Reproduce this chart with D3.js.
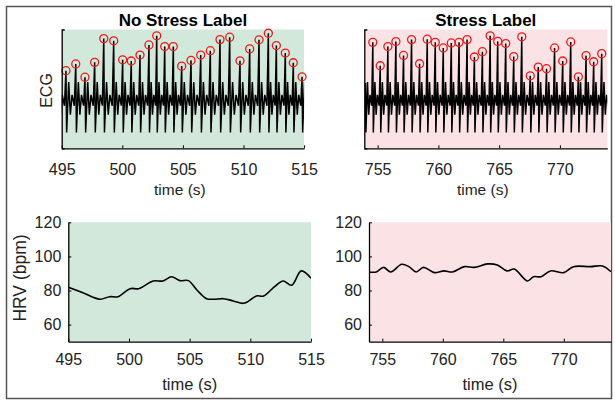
<!DOCTYPE html>
<html>
<head>
<meta charset="utf-8">
<script src="https://cdn.jsdelivr.net/npm/d3@7"></script>
<style>
  body { margin: 0; background: #fff; }
  svg { display: block; font-family: "Liberation Sans", Arial, Helvetica, sans-serif; }
</style>
</head>
<body>
<svg id="chart" width="615" height="401"></svg>
<script>
// R-peak times (s) and heights
const calmPeakTimes = [495.35, 496.16, 496.92, 497.72, 498.47, 499.29, 500.03, 500.74, 501.46,
  502.20, 502.84, 503.50, 504.21, 504.90, 505.67, 506.47, 507.26, 508.06, 508.86, 509.71,
  510.51, 511.28, 512.05, 512.71, 513.45, 514.11, 514.83];
const calmPeakValues = [0.92, 1.26, 0.59, 1.34, 2.54, 2.43, 1.47, 1.41, 1.71, 2.22, 2.68, 2.14,
  2.14, 1.15, 1.44, 1.71, 1.93, 2.49, 2.61, 1.42, 2.02, 2.48, 2.81, 2.19, 1.81, 1.32, 0.61];

const stressPeakTimes = [754.60, 755.21, 755.84, 756.50, 757.13, 757.79, 758.45, 759.08, 759.74,
  760.40, 761.06, 761.70, 762.36, 762.96, 763.62, 764.26, 764.88, 765.54, 766.20, 766.86,
  767.56, 768.22, 768.90, 769.56, 770.23, 770.89, 771.52, 772.15, 772.78, 773.44];
const stressPeakValues = [2.35, 1.17, 2.14, 2.39, 1.69, 2.49, 1.27, 2.51, 2.35, 2.07, 2.32, 2.35,
  2.49, 1.61, 1.88, 2.68, 2.40, 2.29, 1.63, 2.63, 0.66, 1.10, 1.02, 2.07, 1.41, 2.37, 0.61,
  1.68, 1.37, 1.78];

// shape of one beat after its R peak: phase (0 = this R, 1 = next R) and level
const beatPhase = [0.07, 0.28, 0.45, 0.62, 0.85];
const beatLevel = [-2.2, 0.35, -1.3, -0.3, -0.85];

// heart rate curves (bpm)
const calmHrTimes = [495.0, 496.2, 497.6, 498.4, 499.1, 500.1, 500.8, 502.0, 502.8, 503.5,
  504.2, 504.9, 505.6, 506.4, 507.0, 507.8, 508.6, 509.4, 509.8, 510.5, 511.1, 512.0, 512.7,
  513.4, 514.2, 515.0];
const calmHrValues = [81.9, 78.7, 74.9, 76.4, 76.4, 81.1, 81.1, 85.6, 85.6, 88.1, 85.8, 85.8,
  80.3, 75.2, 74.9, 75.2, 73.9, 72.5, 73.5, 76.8, 76.8, 82.3, 85.6, 83.1, 91.5, 87.2];

const stressHrTimes = [753.9, 754.5, 755.1, 755.7, 756.6, 757.2, 757.8, 758.4, 759.3, 760.1,
  760.8, 761.8, 762.6, 763.7, 764.5, 765.3, 765.9, 767.0, 767.5, 768.1, 768.9, 770.0, 770.8,
  772.2, 773.2, 773.9];
const stressHrValues = [90.9, 90.9, 93.6, 90.9, 95.4, 94.0, 90.9, 93.6, 90.5, 91.5, 90.9, 94.0,
  93.6, 95.6, 95.0, 91.5, 92.6, 85.6, 88.1, 88.1, 91.5, 90.5, 94.0, 94.0, 94.4, 91.0];

const calmTicks = [495, 500, 505, 510, 515];
const stressTicks = [755, 760, 765, 770];
const hrTicks = [60, 80, 100, 120];

const GREEN = 'rgb(209,232,219)';
const PINK = 'rgb(250,226,229)';

const svg = d3.select('#chart');

// figure frame
svg.append('rect')
  .attr('x', 6.5).attr('y', 6.5)
  .attr('width', 605).attr('height', 392)
  .attr('fill', 'none')
  .attr('stroke', '#555')
  .attr('stroke-width', 1.5);

let clipId = 0;

function styleAxis(g, fontSize) {
  g.select('.domain').attr('stroke', '#000').attr('stroke-width', 1.3);
  g.selectAll('.tick line').attr('stroke', '#000').attr('stroke-width', 1);
  g.selectAll('.tick text')
    .attr('fill', '#222')
    .style('font-size', `${fontSize}px`);
}

function ecgTrace(times, values) {
  const pts = [];
  const n = times.length;
  const rrFirst = times[1] - times[0];
  const rrLast = times[n - 1] - times[n - 2];
  // the beat that enters the window from the left
  const beats = [{ t: times[0] - rrFirst, v: 0.3, rr: rrFirst }];
  times.forEach((t, i) => {
    beats.push({ t, v: values[i], rr: i < n - 1 ? times[i + 1] - t : rrLast });
  });
  beats.forEach((b) => {
    pts.push([b.t, b.v]);
    beatPhase.forEach((p, j) => pts.push([b.t + p * b.rr, beatLevel[j]]));
  });
  return pts;
}

function ecgPanel(opts) {
  const x = d3.scaleLinear().domain(opts.domain).range(opts.xRange);
  const y = d3.scaleLinear().domain([-3, 3]).range([148.3, 29.5]);
  const id = `clip${clipId++}`;

  svg.append('clipPath').attr('id', id)
    .append('rect')
    .attr('x', opts.xRange[0]).attr('y', 29.5)
    .attr('width', opts.xRange[1] - opts.xRange[0]).attr('height', 148.3 - 29.5);

  svg.append('rect')
    .attr('x', opts.xRange[0]).attr('y', 29.5)
    .attr('width', opts.xRange[1] - opts.xRange[0]).attr('height', 148.3 - 29.5)
    .attr('fill', opts.fill);

  const line = d3.line().x(d => x(d[0])).y(d => y(d[1]));
  svg.append('path')
    .datum(ecgTrace(opts.times, opts.values))
    .attr('clip-path', `url(#${id})`)
    .attr('d', line)
    .attr('fill', 'none')
    .attr('stroke', '#000')
    .attr('stroke-width', 1.5)
    .attr('stroke-linejoin', 'miter');

  svg.append('g')
    .selectAll('circle')
    .data(opts.times.map((t, i) => [t, opts.values[i]]))
    .join('circle')
    .attr('cx', d => x(d[0]))
    .attr('cy', d => y(d[1]))
    .attr('r', 4)
    .attr('fill', 'none')
    .attr('stroke', '#f01818')
    .attr('stroke-width', 1.3);

  const gx = svg.append('g')
    .attr('transform', 'translate(0,148.3)')
    .call(d3.axisBottom(x).tickValues(opts.ticks).tickFormat(d3.format('d'))
      .tickSizeInner(-3).tickSizeOuter(0).tickPadding(15));
  styleAxis(gx, 16);

  const gy = svg.append('g')
    .attr('transform', `translate(${opts.xRange[0]},0)`)
    .call(d3.axisLeft(y).tickValues([]).tickSizeOuter(-3));
  styleAxis(gy, 16);

  const cx = (opts.xRange[0] + opts.xRange[1]) / 2;
  svg.append('text')
    .attr('x', cx - 3).attr('y', 195)
    .attr('text-anchor', 'middle')
    .style('font-size', '15.5px')
    .attr('fill', '#222')
    .text('time (s)');

  svg.append('text')
    .attr('x', cx).attr('y', 26)
    .attr('text-anchor', 'middle')
    .style('font-size', '17px')
    .style('font-weight', 'bold')
    .attr('fill', '#000')
    .text(opts.title);

  if (opts.yLabel) {
    svg.append('text')
      .attr('transform', 'translate(52,90.5) rotate(-90)')
      .attr('text-anchor', 'middle')
      .style('font-size', '16px')
      .attr('fill', '#222')
      .text(opts.yLabel);
  }
}

function hrPanel(opts) {
  const x = d3.scaleLinear().domain(opts.domain).range(opts.xRange);
  const y = d3.scaleLinear().domain([50, 120]).range([341.7, 222.3]);
  const id = `clip${clipId++}`;

  svg.append('clipPath').attr('id', id)
    .append('rect')
    .attr('x', opts.xRange[0]).attr('y', 222.3)
    .attr('width', opts.xRange[1] - opts.xRange[0]).attr('height', 341.7 - 222.3);

  svg.append('rect')
    .attr('x', opts.xRange[0]).attr('y', 222.3)
    .attr('width', opts.xRange[1] - opts.xRange[0]).attr('height', 341.7 - 222.3)
    .attr('fill', opts.fill);

  const line = d3.line()
    .x(d => x(d[0]))
    .y(d => y(d[1]))
    .curve(d3.curveCatmullRom.alpha(0.5));
  svg.append('path')
    .datum(opts.times.map((t, i) => [t, opts.values[i]]))
    .attr('clip-path', `url(#${id})`)
    .attr('d', line)
    .attr('fill', 'none')
    .attr('stroke', '#000')
    .attr('stroke-width', 1.6);

  const gx = svg.append('g')
    .attr('transform', 'translate(0,341.7)')
    .call(d3.axisBottom(x).tickValues(opts.ticks).tickFormat(d3.format('d'))
      .tickSizeInner(-3).tickSizeOuter(0).tickPadding(12));
  styleAxis(gx, 16);

  const gy = svg.append('g')
    .attr('transform', `translate(${opts.xRange[0]},0)`)
    .call(d3.axisLeft(y).tickValues(hrTicks)
      .tickSizeInner(-3).tickSizeOuter(0).tickPadding(7));
  styleAxis(gy, 16);

  const cx = (opts.xRange[0] + opts.xRange[1]) / 2;
  svg.append('text')
    .attr('x', cx).attr('y', 390)
    .attr('text-anchor', 'middle')
    .style('font-size', '16.5px')
    .attr('fill', '#222')
    .text('time (s)');

  if (opts.yLabel) {
    svg.append('text')
      .attr('transform', 'translate(26,278) rotate(-90)')
      .attr('text-anchor', 'middle')
      .style('font-size', '17.5px')
      .attr('fill', '#222')
      .text(opts.yLabel);
  }
}

ecgPanel({
  domain: [495, 515], xRange: [61.7, 304.1], fill: GREEN,
  times: calmPeakTimes, values: calmPeakValues, ticks: calmTicks,
  title: 'No Stress Label', yLabel: 'ECG',
});
ecgPanel({
  domain: [753.9, 773.9], xRange: [364.3, 607.3], fill: PINK,
  times: stressPeakTimes, values: stressPeakValues, ticks: stressTicks,
  title: 'Stress Label',
});
hrPanel({
  domain: [495, 515], xRange: [68.3, 311], fill: GREEN,
  times: calmHrTimes, values: calmHrValues, ticks: calmTicks,
  yLabel: 'HRV (bpm)',
});
hrPanel({
  domain: [753.9, 773.9], xRange: [369, 611], fill: PINK,
  times: stressHrTimes, values: stressHrValues, ticks: stressTicks,
});
</script>
</body>
</html>
